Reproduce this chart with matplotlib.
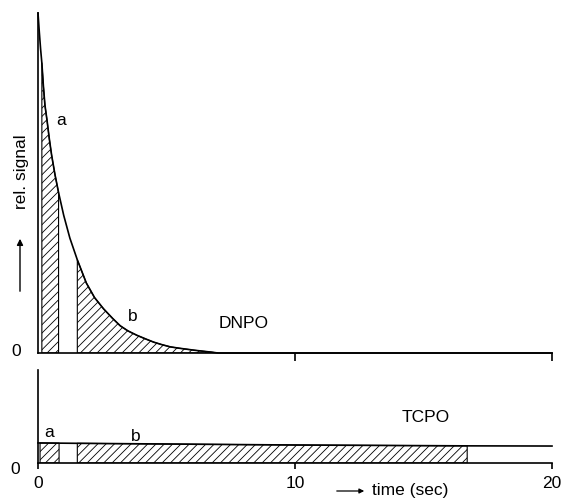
import numpy as np
import matplotlib
matplotlib.use("Agg")
import matplotlib.pyplot as plt

plt.rcParams['font.family'] = ['Liberation Sans', 'DejaVu Sans']
plt.rcParams['hatch.linewidth'] = 0.6

# DNPO decay curve, rel. signal in % of peak
dnpo_t = [0.0, 0.05, 0.10, 0.15, 0.21, 0.27, 0.35, 0.44, 0.53, 0.66, 0.80,
          1.00, 1.24, 1.53, 1.88, 2.20, 2.55, 2.90, 3.20, 3.50, 3.85, 4.20,
          4.50, 4.80, 5.15, 5.50, 5.80, 6.10, 6.45, 6.75, 7.00, 20.0]
dnpo_sig = [100.0, 94.5, 89.5, 85.3, 78.5, 72.9, 68.5, 63.0, 58.2, 52.5, 47.2,
            40.5, 33.8, 27.4, 20.6, 16.3, 13.0, 10.2, 8.0, 6.5, 5.2, 4.1,
            3.2, 2.5, 1.8, 1.4, 1.1, 0.8, 0.5, 0.25, 0.0, 0.0]

# TCPO signal, same units
tcpo_t = [0.0, 0.08, 0.82, 1.53, 10.0, 16.7, 20.0]
tcpo_sig = [5.9, 5.9, 5.85, 5.8, 5.3, 5.05, 5.0]

# integration windows a and b (sec)
dnpo_a = (0.15, 0.80)
dnpo_b = (1.53, 7.00)
tcpo_a = (0.08, 0.82)
tcpo_b = (1.53, 16.7)

xticks = [0, 10, 20]
xticklabels = ['0', '10', '20']

W, H = 567, 500
fig = plt.figure(figsize=(W / 100, H / 100), dpi=100)

def fx(px):
    return px / W

def fy(py):
    return 1 - py / H

ax1 = fig.add_axes([fx(38), fy(353), fx(552) - fx(38), fy(13) - fy(353)])
ax2 = fig.add_axes([fx(38), fy(463), fx(552) - fx(38), fy(370) - fy(463)])

lw = 1.2
fs = 12.5

# top panel
t1 = np.array(dnpo_t)
s1 = np.array(dnpo_sig)
ax1.plot(t1, s1, color='black', lw=lw, clip_on=False, solid_joinstyle='round')
for lo, hi in (dnpo_a, dnpo_b):
    m = (t1 >= lo - 1e-9) & (t1 <= hi + 1e-9)
    ax1.fill_between(t1[m], 0, s1[m], facecolor='none', edgecolor='black',
                     hatch='////', lw=0.8)
ax1.set_xlim(0, 20)
ax1.set_ylim(0, 100)
for sp in ('top', 'right'):
    ax1.spines[sp].set_visible(False)
for sp in ('left', 'bottom'):
    ax1.spines[sp].set_linewidth(lw)
ax1.set_xticks([10, 20])
ax1.set_xticklabels([])
ax1.tick_params(axis='x', direction='out', length=6, width=lw)
ax1.set_yticks([])
ax1.text(0.9, 68.5, 'a', fontsize=fs, ha='center', va='center')
ax1.text(3.7, 10.6, 'b', fontsize=fs, ha='center', va='center')
ax1.text(8.0, 8.8, 'DNPO', fontsize=fs, ha='center', va='center')

# bottom panel
t2 = np.array(tcpo_t)
s2 = np.array(tcpo_sig)
ax2.plot(t2, s2, color='black', lw=lw, clip_on=False)
for lo, hi in (tcpo_a, tcpo_b):
    m = (t2 >= lo - 1e-9) & (t2 <= hi + 1e-9)
    ax2.fill_between(t2[m], 0, s2[m], facecolor='none', edgecolor='black',
                     hatch='////', lw=0.8)
ax2.set_xlim(0, 20)
ax2.set_ylim(0, 27.4)
for sp in ('top', 'right'):
    ax2.spines[sp].set_visible(False)
for sp in ('left', 'bottom'):
    ax2.spines[sp].set_linewidth(lw)
ax2.set_xticks(xticks)
ax2.set_xticklabels(xticklabels, fontsize=fs)
ax2.tick_params(axis='x', direction='out', length=4.5, width=lw, pad=5)
ax2.set_yticks([])
ax2.text(0.45, 9.0, 'a', fontsize=fs, ha='center', va='center')
ax2.text(3.8, 7.8, 'b', fontsize=fs, ha='center', va='center')
ax2.text(15.1, 13.5, 'TCPO', fontsize=fs, ha='center', va='center')

# y zero labels and axis annotations
fig.text(fx(16), fy(352), '0', fontsize=fs, ha='center', va='center')
fig.text(fx(15), fy(470), '0', fontsize=fs, ha='center', va='center')
fig.text(fx(22), fy(172), 'rel. signal', fontsize=fs, rotation=90,
         ha='center', va='center')
fig.add_artist(matplotlib.patches.FancyArrowPatch(
    (fx(20), fy(294)), (fx(20), fy(236)), transform=fig.transFigure,
    arrowstyle='-|>', mutation_scale=9, lw=1.0, color='black'))
fig.add_artist(matplotlib.patches.FancyArrowPatch(
    (fx(334), fy(491)), (fx(367), fy(491)), transform=fig.transFigure,
    arrowstyle='-|>', mutation_scale=7, lw=0.9, color='black'))
fig.text(fx(372), fy(491), 'time (sec)', fontsize=fs, ha='left', va='center')

fig.savefig('out.png', dpi=100)
